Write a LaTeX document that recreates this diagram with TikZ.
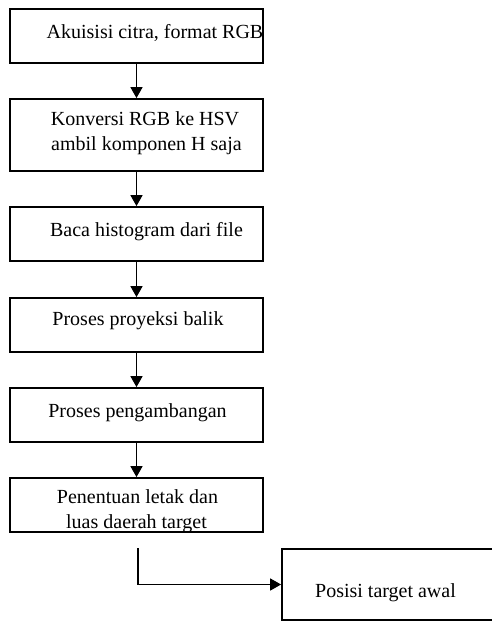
\documentclass[tikz,border=0pt]{standalone}
\usepackage{fontspec}
\setmainfont{Liberation Serif}
\usetikzlibrary{arrows.meta}
\begin{document}
\begin{tikzpicture}[x=1pt,y=-1pt,
  box/.style={draw, line width=1.8pt, rectangle, inner sep=0pt, minimum width=253pt},
  lbl/.style={anchor=base, inner sep=0pt, font=\fontsize{20}{24}\selectfont},
  arr/.style={line width=1.6pt, -{Triangle[width=12pt,length=11pt]}}]
\useasboundingbox (0,0) rectangle (492,622);
\clip (0,0) rectangle (492,622);
\node[box, minimum height=54pt] (b1) at (136.5,36) {};
\node[box, minimum height=72pt] (b2) at (136.5,135) {};
\node[box, minimum height=54pt] (b3) at (136.5,234) {};
\node[box, minimum height=54pt] (b4) at (136.5,325) {};
\node[box, minimum height=54pt] (b5) at (136.5,415) {};
\node[box, minimum height=54pt] (b6) at (136.5,505) {};
\node[box, minimum width=230pt, minimum height=71pt] (b7) at (397,584.5) {};
\node[lbl] (t1) at (155,38) {Akuisisi citra, format RGB};
\node[lbl] (t2a) at (145,125) {Konversi RGB ke HSV};
\node[lbl] (t2b) at (146.5,150) {ambil komponen H saja};
\node[lbl] (t3) at (146.5,236) {Baca histogram dari file};
\node[lbl] (t4) at (138,325) {Proses proyeksi balik};
\node[lbl] (t5) at (137.5,417) {Proses pengambangan};
\node[lbl] (t6a) at (137.5,503) {Penentuan letak dan};
\node[lbl] (t6b) at (136.5,528) {luas daerah target};
\node[lbl] (t7) at (385.5,597) {Posisi target awal};
\draw[arr] (b1.south) -- (b2.north);
\draw[arr] (b2.south) -- (b3.north);
\draw[arr] (b3.south) -- (b4.north);
\draw[arr] (b4.south) -- (b5.north);
\draw[arr] (b5.south) -- (b6.north);
\coordinate (c) at (138,548);
\draw[arr] (c) |- (b7.west);
\end{tikzpicture}
\end{document}
